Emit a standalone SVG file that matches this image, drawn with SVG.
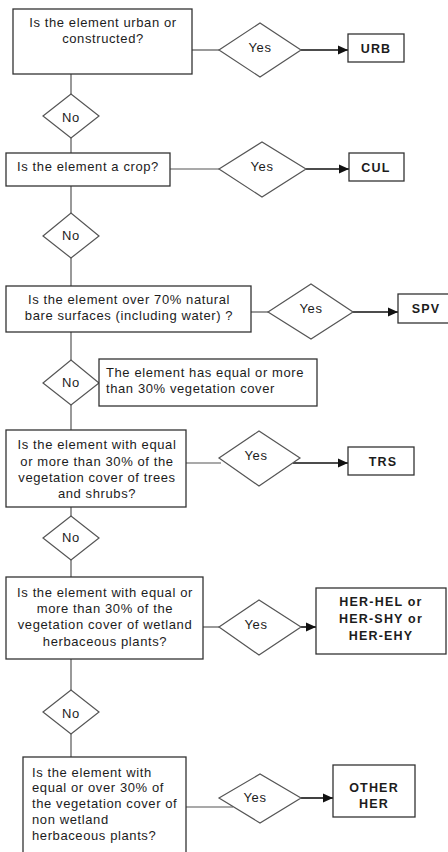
<svg xmlns="http://www.w3.org/2000/svg" width="448" height="852" viewBox="0 0 448 852">
<defs>
<style>
.box{fill:#fff;stroke:#333;stroke-width:1.3}
.dia{fill:#fff;stroke:#555;stroke-width:1.2}
.ln{fill:none;stroke:#555;stroke-width:1.2}
.arr{fill:none;stroke:#111;stroke-width:1.6;marker-end:url(#ah)}
text{font-family:"Liberation Sans",Arial,sans-serif;font-size:13px;fill:#1c1c1c;letter-spacing:0.6px}
.c{text-anchor:middle}
.b{font-weight:bold;font-size:12.5px;letter-spacing:1.2px}
</style>
<marker id="ah" markerUnits="userSpaceOnUse" markerWidth="10" markerHeight="10" viewBox="0 0 10 10" refX="10" refY="5" orient="auto">
<path d="M0,0.5 L10,5 L0,9.5 z" fill="#111"/>
</marker>
</defs>

<g id="connectors">
<line class="ln" x1="192" y1="50" x2="219" y2="50"/>
<line class="arr" x1="301" y1="50" x2="348" y2="50"/>
<line class="ln" x1="71" y1="74" x2="71" y2="94"/>
<line class="ln" x1="71" y1="138" x2="71" y2="153"/>
<line class="ln" x1="170" y1="169" x2="219" y2="169"/>
<line class="arr" x1="306" y1="169" x2="349" y2="169"/>
<line class="ln" x1="71" y1="186" x2="71" y2="213"/>
<line class="ln" x1="71" y1="258" x2="71" y2="286"/>
<line class="ln" x1="251" y1="312" x2="268" y2="312"/>
<line class="arr" x1="353" y1="312" x2="398" y2="312"/>
<line class="ln" x1="71" y1="332" x2="71" y2="360"/>
<line class="ln" x1="71" y1="405" x2="71" y2="430"/>
<line class="ln" x1="186" y1="463" x2="221" y2="463"/>
<line class="arr" x1="293" y1="463" x2="348" y2="463"/>
<line class="ln" x1="71" y1="507" x2="71" y2="516"/>
<line class="ln" x1="71" y1="560" x2="71" y2="577"/>
<line class="ln" x1="203" y1="627" x2="219" y2="627"/>
<line class="arr" x1="301" y1="627" x2="316" y2="627"/>
<line class="ln" x1="71" y1="659" x2="71" y2="690"/>
<line class="ln" x1="71" y1="734" x2="71" y2="757"/>
<line class="ln" x1="186" y1="807" x2="233" y2="807"/>
<line class="arr" x1="301" y1="798" x2="333" y2="798"/>
</g>

<g id="q1">
<rect class="box" x="13" y="9" width="179" height="65"/>
<text class="c" x="103" y="27">Is the element urban or</text>
<text class="c" x="103" y="43">constructed?</text>
</g>
<g id="yes1">
<polygon class="dia" points="219,50 260,23 301,50 260,77"/>
<text class="c" x="260" y="52">Yes</text>
</g>
<g id="urb">
<rect class="box" x="348" y="34" width="56" height="28"/>
<text class="c b" x="376" y="53">URB</text>
</g>
<g id="no1">
<polygon class="dia" points="43,116 71,94 99,116 71,138"/>
<text class="c" x="71" y="122">No</text>
</g>

<g id="q2">
<rect class="box" x="6" y="153" width="164" height="33"/>
<text class="c" x="88" y="171">Is the element a crop?</text>
</g>
<g id="yes2">
<polygon class="dia" points="219,169 262,142 306,169 262,197"/>
<text class="c" x="262" y="171">Yes</text>
</g>
<g id="cul">
<rect class="box" x="349" y="153" width="55" height="28"/>
<text class="c b" x="376" y="172">CUL</text>
</g>
<g id="no2">
<polygon class="dia" points="43,236 71,213 99,236 71,258"/>
<text class="c" x="71" y="240">No</text>
</g>

<g id="q3">
<rect class="box" x="6" y="286" width="245" height="46"/>
<text class="c" x="129" y="304">Is the element over 70% natural</text>
<text class="c" x="129" y="320">bare surfaces (including water) ?</text>
</g>
<g id="yes3">
<polygon class="dia" points="268,312 311,284 353,312 311,339"/>
<text class="c" x="311" y="313">Yes</text>
</g>
<g id="spv">
<rect class="box" x="398" y="294" width="56" height="29"/>
<text class="c b" x="426" y="313">SPV</text>
</g>
<g id="no3">
<polygon class="dia" points="43,383 71,360 99,383 71,405"/>
<text class="c" x="71" y="387">No</text>
</g>
<g id="note">
<rect class="box" x="99" y="359" width="218" height="47"/>
<text x="106" y="377">The element has equal or more</text>
<text x="106" y="393">than 30% vegetation cover</text>
</g>

<g id="q4">
<rect class="box" x="6" y="430" width="180" height="77"/>
<text class="c" x="97" y="449">Is the element with equal</text>
<text class="c" x="97" y="466">or more than 30% of the</text>
<text class="c" x="97" y="482">vegetation cover of trees</text>
<text class="c" x="97" y="498">and shrubs?</text>
</g>
<g id="yes4">
<polygon class="dia" points="219,458 259,431 300,458 259,486"/>
<text class="c" x="256" y="460">Yes</text>
</g>
<g id="trs">
<rect class="box" x="348" y="447" width="66" height="28"/>
<text class="c b" x="383" y="466">TRS</text>
</g>
<g id="no4">
<polygon class="dia" points="43,538 71,516 99,538 71,560"/>
<text class="c" x="71" y="542">No</text>
</g>

<g id="q5">
<rect class="box" x="6" y="577" width="197" height="82"/>
<text class="c" x="105" y="597">Is the element with equal or</text>
<text class="c" x="105" y="613">more than 30% of the</text>
<text class="c" x="105" y="629">vegetation cover of wetland</text>
<text class="c" x="105" y="646">herbaceous plants?</text>
</g>
<g id="yes5">
<polygon class="dia" points="219,627 259,600 301,627 259,655"/>
<text class="c" x="256" y="629">Yes</text>
</g>
<g id="her">
<rect class="box" x="316" y="588" width="130" height="66"/>
<text class="c b" x="381" y="606">HER-HEL or</text>
<text class="c b" x="381" y="623">HER-SHY or</text>
<text class="c b" x="381" y="640">HER-EHY</text>
</g>
<g id="no5">
<polygon class="dia" points="43,712 71,690 99,712 71,734"/>
<text class="c" x="71" y="718">No</text>
</g>

<g id="q6">
<rect class="box" x="23" y="757" width="163" height="100"/>
<text x="32" y="777">Is the element with</text>
<text x="32" y="792">equal or over 30% of</text>
<text x="32" y="808">the vegetation cover of</text>
<text x="32" y="824">non wetland</text>
<text x="32" y="840">herbaceous plants?</text>
</g>
<g id="yes6">
<polygon class="dia" points="219,798 260,774 301,798 260,823"/>
<text class="c" x="255" y="802">Yes</text>
</g>
<g id="other">
<rect class="box" x="333" y="765" width="82" height="52"/>
<text class="c b" x="374" y="792">OTHER</text>
<text class="c b" x="374" y="808">HER</text>
</g>
</svg>
